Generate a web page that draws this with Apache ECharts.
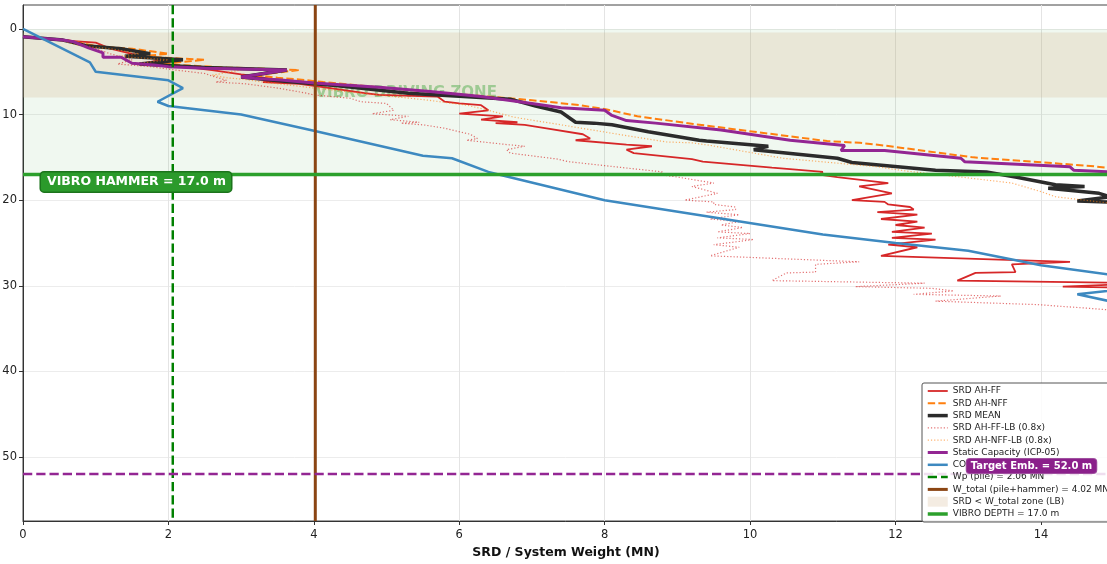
<!DOCTYPE html>
<html><head><meta charset="utf-8">
<script src="https://cdn.jsdelivr.net/npm/echarts@6/dist/echarts.min.js"></script>
<style>html,body{margin:0;padding:0;background:#fff}#c{width:1107px;height:564px}</style>
</head><body><div id="c"></div>
<script>
// ---------- axis limits & ticks ----------
const DEPTH_MIN = -2.8, DEPTH_MAX = 57.48, X_MAX = 14.936;
const xTicks = [0, 2, 4, 6, 8, 10, 12, 14];
const yTicks = [0, 10, 20, 30, 40, 50];

// ---------- constants ----------
const WP = 2.06, W_TOTAL = 4.02, VIBRO_DEPTH = 17.0, TARGET_EMB = 52.0;
const LB_ZONE = [0.4, 8.0];      // SRD(LB) < W_total
const VIBRO_ZONE = [0, 17.0];

// ---------- series data : [SRD (MN), depth (m)] ----------
const srdAhFF = [[0,0.9],[0.5,1.3],[1.0,1.6],[1.2,2.3],[1.5,2.9],[1.9,3.6],[1.6,4.1],[2.2,4.4],[2.6,4.8],[3.0,5.3],[3.2,5.5],[3.5,6.0],[3.3,6.2],[3.8,6.4],[4.3,7.0],[4.7,7.5],[4.9,7.7],[5.7,7.9],[5.8,8.5],[6.0,8.7],[6.3,8.9],[6.4,9.5],[6.0,9.9],[6.6,10.2],[6.3,10.6],[6.8,10.9],[6.5,11.0],[6.9,11.2],[7.2,11.6],[7.7,12.3],[7.8,12.8],[7.6,13.0],[8.3,13.5],[8.65,13.7],[8.3,14.1],[8.4,14.5],[9.2,15.2],[9.35,15.5],[10.3,16.2],[11.0,16.7],[10.95,17.0],[11.2,17.3],[11.9,18.0],[11.5,18.4],[11.95,19.2],[11.4,20.0],[11.85,20.2],[11.9,20.5],[12.2,20.8],[12.25,21.1],[11.75,21.4],[12.3,21.7],[11.8,22.2],[12.3,22.5],[12.0,22.9],[12.4,23.2],[11.95,23.7],[12.5,23.9],[11.95,24.4],[12.55,24.6],[11.9,25.2],[12.3,25.5],[11.8,26.5],[14.4,27.2],[13.6,27.5],[13.65,28.4],[13.1,28.5],[12.85,29.4],[15.5,29.7],[14.3,30.1],[15.6,30.3],[16.0,30.6],[15.3,31.0],[16.8,31.2],[15.7,31.8],[17.4,32.2],[18.3,32.6]];
const srdAhNFF = [[0,0.9],[0.6,1.3],[1.0,2.0],[1.5,2.3],[2.0,2.9],[1.6,3.2],[2.5,3.6],[1.9,4.1],[2.8,4.5],[3.8,4.8],[3.2,5.4],[3.5,5.7],[3.8,5.9],[4.13,6.2],[5.0,6.9],[5.83,7.5],[6.97,8.3],[7.66,8.9],[8.03,9.4],[8.45,10.2],[9.22,11.1],[10.51,12.5],[11.06,13.1],[11.51,13.3],[11.83,13.6],[13.07,15.0],[14.68,16.0],[15.2,16.5],[16.0,17.4]];
const srdMean = [[0,0.9],[0.55,1.3],[0.9,2.0],[1.35,2.3],[1.75,2.9],[1.4,3.2],[2.2,3.6],[1.6,4.1],[2.5,4.5],[3.63,4.8],[3.0,5.6],[3.2,5.8],[3.6,6.1],[4.3,6.6],[5.3,7.5],[6.7,8.2],[7.05,9.0],[7.4,9.7],[7.6,10.9],[7.85,11.0],[8.1,11.2],[8.6,12.0],[9.3,13.0],[9.4,13.1],[10.25,13.7],[10.05,14.1],[11.2,15.1],[11.4,15.6],[12.55,16.5],[13.25,16.7],[13.65,17.3],[14.2,18.2],[14.6,18.4],[14.1,18.6],[14.8,19.2],[14.95,19.6],[14.5,20.1],[15.2,20.3],[16.0,21.0]];
const srdAhFFLB = [[0,0.9],[0.5,1.3],[0.8,1.6],[1.0,2.3],[1.2,2.9],[1.5,3.6],[1.3,4.1],[1.75,4.4],[2.1,4.8],[2.5,5.2],[2.6,5.5],[2.8,6.0],[2.65,6.2],[3.05,6.4],[3.5,6.9],[3.9,7.5],[4.0,7.7],[4.5,8.1],[4.65,8.5],[5.0,8.7],[5.05,9.1],[5.1,9.5],[4.8,9.9],[5.3,10.2],[5.05,10.6],[5.45,10.9],[5.2,11.0],[5.5,11.2],[5.8,11.6],[6.15,12.3],[6.25,12.8],[6.1,13.0],[6.65,13.5],[6.9,13.7],[6.65,14.1],[6.7,14.5],[7.35,15.2],[7.5,15.5],[8.25,16.2],[8.8,16.7],[8.75,17.0],[9.0,17.3],[9.5,18.0],[9.2,18.4],[9.55,19.2],[9.1,20.0],[9.5,20.2],[9.5,20.5],[9.8,20.8],[9.8,21.1],[9.4,21.4],[9.85,21.7],[9.45,22.2],[9.85,22.5],[9.6,22.9],[9.9,23.2],[9.55,23.7],[10.0,23.9],[9.55,24.4],[10.05,24.6],[9.5,25.2],[9.85,25.5],[9.45,26.5],[11.5,27.2],[10.9,27.5],[10.9,28.4],[10.5,28.5],[10.3,29.4],[12.4,29.7],[11.45,30.1],[12.5,30.3],[12.8,30.6],[12.25,31.0],[13.45,31.2],[12.55,31.8],[13.95,32.2],[14.6,32.6],[15.2,33.0],[16.0,34.0]];
const srdAhNFFLB = [[0,0.9],[0.5,1.3],[0.8,2.0],[1.2,2.3],[1.6,2.9],[1.3,3.2],[2.0,3.6],[1.5,4.1],[2.25,4.5],[3.0,4.8],[2.6,5.4],[2.8,5.7],[3.05,5.9],[3.3,6.2],[4.0,6.9],[4.65,7.5],[5.55,8.3],[6.1,8.9],[6.4,9.5],[6.75,10.3],[7.4,11.2],[8.4,12.6],[8.85,13.2],[9.2,13.3],[9.45,13.6],[10.45,15.1],[11.75,16.1],[12.15,16.6],[12.9,17.3],[13.6,18.0],[14.0,19.0],[14.2,19.6],[14.9,20.3],[15.5,21.0]];
const staticCap = [[0,0.9],[0.55,1.3],[0.7,1.5],[0.9,2.2],[1.1,2.8],[1.1,3.3],[1.35,3.3],[1.5,4.0],[1.8,4.2],[2.0,4.4],[2.5,4.6],[3.63,4.8],[3.0,5.6],[3.2,5.8],[3.55,5.95],[4.0,6.3],[4.9,6.8],[5.6,7.3],[6.3,7.9],[7.0,8.7],[7.4,9.2],[8.0,9.5],[8.1,10.1],[8.3,10.7],[8.7,11.0],[9.6,11.8],[10.55,13.0],[11.3,13.6],[11.25,14.2],[11.85,14.2],[12.9,15.1],[12.95,15.5],[14.4,16.1],[14.45,16.5],[15.0,16.7],[16.0,17.5]];
const coneQc = [[0,0],[0.92,3.9],[1.0,5.0],[2.0,6.0],[2.2,6.9],[1.85,8.5],[2.0,9.0],[3.0,10.0],[4.0,11.9],[5.5,14.8],[5.9,15.1],[6.4,16.7],[8.0,20.0],[11.0,24.0],[12.0,25.0],[13.0,25.9],[14.0,27.6],[14.94,28.7],[15.8,29.8],[14.5,31.0],[15.0,31.9],[16.0,33.5]];

// ---------- names ----------
const N = {
  ff: 'SRD AH-FF', nff: 'SRD AH-NFF', mean: 'SRD MEAN',
  ffLB: 'SRD AH-FF-LB (0.8x)', nffLB: 'SRD AH-NFF-LB (0.8x)',
  cap: 'Static Capacity (ICP-05)', cone: 'CONE qc (MPa)',
  wp: 'Wp (pile) = 2.06 MN', wt: 'W_total (pile+hammer) = 4.02 MN',
  zone: 'SRD < W_total zone (LB)', vibro: 'VIBRO DEPTH = 17.0 m'
};
const FONT = 'DejaVu Sans';

const C = {
  red: '#d62728', orange: '#ff7f0e', black: '#2b2b2b', purple: '#932693',
  blue: '#3d89c0', green: '#008000', brown: '#8b4513', vgreen: '#2ca02c',
  redLB: 'rgba(214,39,40,0.65)', orangeLB: 'rgba(255,127,14,0.6)',
  beige: 'rgba(210,180,140,0.25)', greenZone: 'rgba(44,160,44,0.07)'
};

function ln(name, data, color, width, type, z) {
  return { name, type: 'line', data, symbol: 'none', clip: true, z: z,
    lineStyle: { color, width, type }, itemStyle: { color },
    emphasis: { disabled: true }, silent: true };
}

const chart = echarts.init(document.getElementById('c'));
chart.setOption({
  animation: false,
  backgroundColor: '#fff',
  grid: { left: 23, right: -2, top: 5, bottom: 43, show: true, borderColor: '#444', borderWidth: 1,
    backgroundColor: 'transparent', containLabel: false, outerBoundsMode: 'none' },
  xAxis: {
    type: 'value', min: 0, max: X_MAX,
    name: 'SRD / System Weight (MN)', nameLocation: 'middle', nameGap: 24,
    nameTextStyle: { fontFamily: FONT, fontWeight: 'bold', fontSize: 12.5, color: '#111' },
    axisLine: { show: true, onZero: false, lineStyle: { color: '#333', width: 1 } },
    axisTick: { show: true, length: 4, customValues: xTicks, lineStyle: { color: '#333' } },
    axisLabel: { customValues: xTicks, fontFamily: FONT, fontSize: 11.5, color: '#222', margin: 8 },
    splitLine: { show: true, lineStyle: { color: '#e4e4e4', width: 1 } }
  },
  yAxis: {
    type: 'value', inverse: true, min: DEPTH_MIN, max: DEPTH_MAX,
    axisLine: { show: true, onZero: false, lineStyle: { color: '#333', width: 1 } },
    axisTick: { show: true, length: 4, customValues: yTicks, lineStyle: { color: '#333' } },
    axisLabel: { customValues: yTicks, fontFamily: FONT, fontSize: 11.5, color: '#222', margin: 6 },
    splitLine: { show: true, lineStyle: { color: '#ececec', width: 1 } }
  },
  legend: {
    orient: 'vertical', left: 922, top: 383,
    padding: [3, 6, 3, 4], itemGap: 2.3, itemWidth: 20, itemHeight: 10,
    backgroundColor: 'rgba(255,255,255,0.85)', borderColor: '#555', borderWidth: 1, borderRadius: 2,
    textStyle: { fontFamily: FONT, fontSize: 9, color: '#222', lineHeight: 10 },
    itemStyle: { opacity: 0 },
    selectedMode: false,
    data: [
      { name: N.ff, lineStyle: { width: 1.8 } },
      { name: N.nff, lineStyle: { width: 2 } },
      { name: N.mean, lineStyle: { width: 3.5 } },
      { name: N.ffLB, lineStyle: { width: 1.2 } },
      { name: N.nffLB, lineStyle: { width: 1.2 } },
      { name: N.cap, lineStyle: { width: 3 } },
      { name: N.cone, lineStyle: { width: 2.5 } },
      { name: N.wp, lineStyle: { width: 2.5 } },
      { name: N.wt, lineStyle: { width: 3 } },
      { name: N.zone, icon: 'rect', itemStyle: { opacity: 1, color: C.beige } },
      { name: N.vibro, lineStyle: { width: 3.5 } }
    ]
  },
  series: [
    { name: N.zone, type: 'line', data: [], symbol: 'none', z: 1, silent: true,
      itemStyle: { color: C.beige }, lineStyle: { width: 0 },
      markArea: { silent: true, data: [
        [{ yAxis: VIBRO_ZONE[0], itemStyle: { color: C.greenZone } }, { yAxis: VIBRO_ZONE[1] }],
        [{ yAxis: LB_ZONE[0], itemStyle: { color: C.beige } }, { yAxis: LB_ZONE[1] }]
      ] } },
    { type: 'scatter', data: [[5.27, 7.48]], symbolSize: 0, z: 1, silent: true, itemStyle: { opacity: 1 },
      label: { show: true, position: 'inside', formatter: 'VIBRO DRIVING ZONE',
        fontFamily: FONT, fontWeight: 'bold', fontSize: 15, color: 'rgba(44,160,44,0.4)' } },
    ln(N.ff, srdAhFF, C.red, 1.8, 'solid', 3),
    ln(N.nff, srdAhNFF, C.orange, 2, [7.4, 3.2], 3),
    ln(N.mean, srdMean, C.black, 3.5, 'solid', 3),
    ln(N.ffLB, srdAhFFLB, C.redLB, 1.2, [1.2, 2], 3),
    ln(N.nffLB, srdAhNFFLB, C.orangeLB, 1.2, [1.2, 2], 3),
    ln(N.cap, staticCap, C.purple, 3, 'solid', 3),
    ln(N.cone, coneQc, C.blue, 2.5, 'solid', 3),
    ln(N.wp, [[WP, DEPTH_MIN], [WP, DEPTH_MAX]], C.green, 2.5, [9.25, 4], 3),
    ln(N.wt, [[W_TOTAL, DEPTH_MIN], [W_TOTAL, DEPTH_MAX]], C.brown, 3, 'solid', 3),
    ln(N.vibro, [[0, VIBRO_DEPTH], [X_MAX, VIBRO_DEPTH]], C.vgreen, 3.5, 'solid', 3),
    ln('Target', [[0, TARGET_EMB], [X_MAX, TARGET_EMB]], C.purple, 2.5, [9.25, 4], 3),
    { type: 'scatter', data: [[1.554, 17.87]], symbolSize: 0, z: 6, silent: true, itemStyle: { opacity: 1 },
      label: { show: true, position: 'inside', formatter: 'VIBRO HAMMER = ' + VIBRO_DEPTH.toFixed(1) + ' m',
        fontFamily: FONT, fontWeight: 'bold', fontSize: 12.5, color: '#fff',
        backgroundColor: '#2b9a2b', borderColor: '#1c741c', borderWidth: 1.5, borderRadius: 3, padding: [3, 5, 3, 6] } },
    { type: 'scatter', data: [[13.87, 51.05]], symbolSize: 0, z: 8, zlevel: 1, silent: true, itemStyle: { opacity: 1 },
      label: { show: true, position: 'inside', formatter: 'Target Emb. = ' + TARGET_EMB.toFixed(1) + ' m',
        fontFamily: FONT, fontWeight: 'bold', fontSize: 10, color: '#fff',
        backgroundColor: '#8b208b', borderColor: '#a050a0', borderWidth: 1, borderRadius: 3, padding: [2, 4, 2, 4] } }
  ]
});
</script></body></html>
